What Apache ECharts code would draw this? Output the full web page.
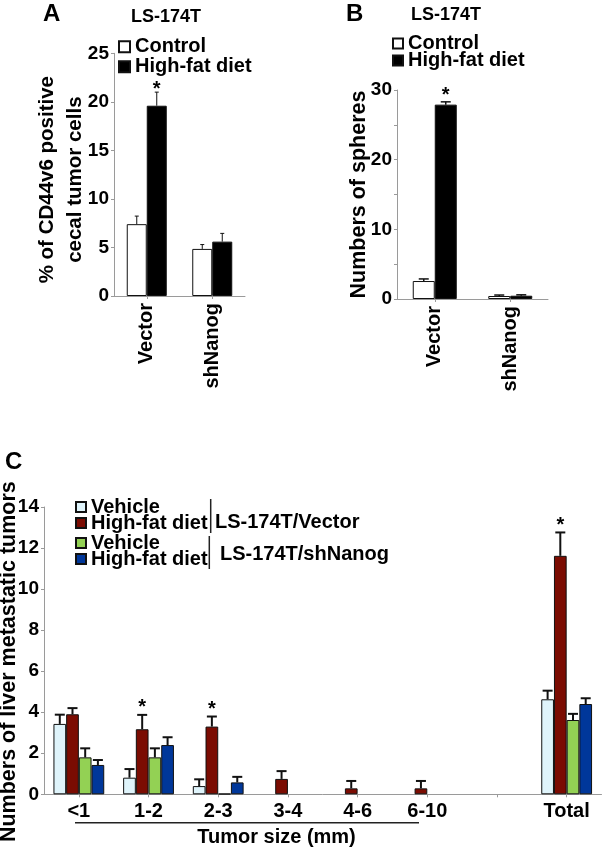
<!DOCTYPE html>
<html>
<head>
<meta charset="utf-8">
<script src="https://cdn.jsdelivr.net/npm/echarts@6/dist/echarts.min.js"></script>
<style>
html, body { margin: 0; padding: 0; background: #fff; }
#main { width: 602px; height: 850px; }
</style>
</head>
<body>
<div id="main"></div>
<script>
// panel A / B groups
var groupsAB = ['Vector', 'shNanog'];

// A: % of CD44v6 positive cecal tumor cells
var aControl = [7.4, 4.85];
var aControlErr = [0.83, 0.45];
var aHfd = [19.6, 5.6];
var aHfdErr = [1.4, 0.85];
var aHfdSig = [1, 0];

// B: numbers of spheres
var bControl = [2.58, 0.43];
var bControlErr = [0.3, 0.14];
var bHfd = [27.9, 0.47];
var bHfdErr = [0.4, 0.13];
var bHfdSig = [1, 0];

// C: liver metastatic tumors by size
var sizeCats = ['<1', '1-2', '2-3', '3-4', '4-6', '6-10', '', 'Total'];
var vehVector = [3.43, 0.81, 0.4, null, null, null, null, 4.63];
var vehVectorErr = [0.45, 0.42, 0.33, 0, 0, 0, 0, 0.42];
var hfdVector = [3.9, 3.17, 3.3, 0.75, 0.29, 0.29, null, 11.62];
var hfdVectorErr = [0.3, 0.7, 0.49, 0.38, 0.36, 0.36, 0, 1.14];
var hfdVectorSig = [0, 1, 1, 0, 0, 0, 0, 1];
var vehSh = [1.8, 1.8, 0.03, null, null, null, null, 3.62];
var vehShErr = [0.44, 0.44, 0, 0, 0, 0, 0, 0.3];
var hfdSh = [1.43, 2.4, 0.58, null, null, null, null, 4.4];
var hfdShErr = [0.24, 0.38, 0.27, 0, 0, 0, 0, 0.28];

var FONT = '"Liberation Sans", Arial, Helvetica, sans-serif';
var AXIS_GRAY = '#9a9a9a';

function errData(vals, errs, sig) {
    var out = [];
    for (var i = 0; i < vals.length; i++) {
        if (vals[i] == null || !errs[i]) continue;
        out.push([i, vals[i], errs[i], sig ? sig[i] : 0]);
    }
    return out;
}

// error bar drawn above a bar, shifted by offset px from the category centre
function errBar(offset, cap, lw, starGap) {
    return function (params, api) {
        var i = api.value(0), v = api.value(1), e = api.value(2);
        var base = api.coord([i, v]);
        var top = api.coord([i, v + e]);
        var x = base[0] + offset;
        var kids = [
            { type: 'line', shape: { x1: x, y1: base[1], x2: x, y2: top[1] }, style: { stroke: '#111', lineWidth: lw } },
            { type: 'line', shape: { x1: x - cap, y1: top[1], x2: x + cap, y2: top[1] }, style: { stroke: '#111', lineWidth: lw } }
        ];
        if (api.value(3)) {
            kids.push({
                type: 'text', x: x, y: top[1] - starGap,
                style: { text: '*', fill: '#000', font: 'bold 20px ' + FONT, align: 'center', verticalAlign: 'middle' }
            });
        }
        return { type: 'group', children: kids };
    };
}

function errSeries(grid, vals, errs, sig, offset, cap, lw, starGap) {
    return {
        type: 'custom', xAxisIndex: grid, yAxisIndex: grid, z: 5,
        renderItem: errBar(offset, cap, lw, starGap || 3),
        encode: { x: 0, y: 1 },
        data: errData(vals, errs, sig)
    };
}

function catAxis(grid, data, rotate, margin) {
    return {
        type: 'category', gridIndex: grid, data: data,
        axisLine: { show: true, lineStyle: { color: AXIS_GRAY, width: 1 } },
        axisTick: { show: true, alignWithLabel: true, length: 3, lineStyle: { color: AXIS_GRAY } },
        axisLabel: { rotate: rotate, margin: margin, color: '#000', fontSize: 20, fontWeight: 'bold', fontFamily: FONT, interval: 0 },
        splitLine: { show: false }
    };
}

function valAxis(grid, max, interval, name, nameGap, fmt, extra, labelPad) {
    var ax = {
        type: 'value', gridIndex: grid, min: 0, max: max, interval: interval,
        name: name, nameLocation: 'middle', nameRotate: 90, nameGap: nameGap,
        nameMoveOverlap: false,
        nameTextStyle: { color: '#000', fontSize: 19, fontWeight: 'bold', fontFamily: FONT },
        axisLine: { show: true, lineStyle: { color: AXIS_GRAY, width: 1 } },
        axisTick: { show: true, length: 3, lineStyle: { color: AXIS_GRAY } },
        axisLabel: { color: '#000', fontSize: 19, fontWeight: 'bold', fontFamily: FONT, margin: 5, formatter: fmt, padding: labelPad || 0 },
        splitLine: { show: false }
    };
    if (extra) {
        for (var k in extra) ax.nameTextStyle[k] = extra[k];
    }
    return ax;
}

function barSeries(grid, name, vals, color, width) {
    return {
        type: 'bar', name: name, xAxisIndex: grid, yAxisIndex: grid,
        data: vals, barWidth: width, barGap: '0%',
        itemStyle: { color: color, borderColor: '#111', borderWidth: 1 },
        emphasis: { disabled: true }
    };
}

function legendBox(data, left, top, gap, iw, ih) {
    return {
        data: data, orient: 'vertical', left: left, top: top, padding: 0,
        itemGap: gap, itemWidth: iw, itemHeight: ih, icon: 'rect', selectedMode: false,
        formatter: function (name) { return name.split('|')[0]; },
        textStyle: { color: '#000', fontSize: 20, fontWeight: 'bold', fontFamily: FONT }
    };
}

function label(text, x, y, size, align) {
    return {
        type: 'text', x: x, y: y,
        style: { text: text, fill: '#000', font: 'bold ' + size + 'px ' + FONT, align: align || 'left', verticalAlign: 'middle' }
    };
}

function rule(x1, y1, x2, y2) {
    return { type: 'line', shape: { x1: x1, y1: y1, x2: x2, y2: y2 }, style: { stroke: '#222', lineWidth: 1.5 } };
}

var cBw = 12.7;
var myChart = echarts.init(document.getElementById('main'));
var option = {
    animation: false,
    backgroundColor: '#fff',
    grid: [
        { left: 114, top: 53.3, width: 131, height: 242.7, outerBoundsMode: 'none' },
        { left: 397, top: 90, width: 151, height: 209, outerBoundsMode: 'none' },
        { left: 44, top: 507, width: 557.5, height: 287.3, outerBoundsMode: 'none' }
    ],
    xAxis: [
        catAxis(0, groupsAB, 90, 7),
        catAxis(1, groupsAB, 90, 7),
        catAxis(2, sizeCats, 0, 7)
    ],
    yAxis: [
        valAxis(0, 25, 5, '% of CD44v6 positive\ncecal tumor cells', 25, null, { fontSize: 20.5, lineHeight: 28, padding: [0, 10, 0, 0] }),
        valAxis(1, 30, 5, 'Numbers of spheres', 27, function (v) { return v % 10 === 0 ? v : ''; }, { fontSize: 21.5 }, [8, 0, 0, 0]),
        valAxis(2, 14, 2, 'Numbers of liver metastatic tumors', 24, null, { fontSize: 21.5, padding: [0, 22, 0, 0] })
    ],
    legend: [
        legendBox(['Control', 'High-fat diet'], 118, 36.7, 0, 11, 11),
        legendBox(['Control|B', 'High-fat diet|B'], 392, 33.5, -3, 10, 10),
        legendBox(['Vehicle|V', 'High-fat diet|V'], 75, 497, -4, 10, 10),
        legendBox(['Vehicle|S', 'High-fat diet|S'], 75, 533, -4, 10, 10)
    ],
    series: [
        barSeries(0, 'Control', aControl, '#ffffff', 20),
        barSeries(0, 'High-fat diet', aHfd, '#000000', 20),
        errSeries(0, aControl, aControlErr, null, -10, 2, 1),
        errSeries(0, aHfd, aHfdErr, aHfdSig, 10, 2, 1, 3),

        barSeries(1, 'Control|B', bControl, '#ffffff', 22),
        barSeries(1, 'High-fat diet|B', bHfd, '#000000', 22),
        errSeries(1, bControl, bControlErr, null, -11, 5, 1.5),
        errSeries(1, bHfd, bHfdErr, bHfdSig, 11, 5, 1.5, 6),

        barSeries(2, 'Vehicle|V', vehVector, '#dff4fb', cBw),
        barSeries(2, 'High-fat diet|V', hfdVector, '#7b0c02', cBw),
        barSeries(2, 'Vehicle|S', vehSh, '#93d154', cBw),
        barSeries(2, 'High-fat diet|S', hfdSh, '#00379a', cBw),
        errSeries(2, vehVector, vehVectorErr, null, -1.5 * cBw, 5, 2),
        errSeries(2, hfdVector, hfdVectorErr, hfdVectorSig, -0.5 * cBw, 5, 2, 7),
        errSeries(2, vehSh, vehShErr, null, 0.5 * cBw, 5, 2),
        errSeries(2, hfdSh, hfdShErr, null, 1.5 * cBw, 5, 2)
    ],
    graphic: [
        label('A', 43, 14, 24),
        label('LS-174T', 166, 17, 18, 'center'),
        label('B', 346, 14, 24),
        label('LS-174T', 446, 15, 18, 'center'),
        label('C', 5, 462, 24),
        rule(210.7, 499, 210.7, 533),
        rule(209.3, 536, 209.3, 569),
        label('LS-174T/Vector', 215, 522, 20),
        label('LS-174T/shNanog', 220, 554, 20),
        rule(75, 822.7, 419, 822.7),
        label('Tumor size (mm)', 276.5, 837, 20, 'center')
    ]
};
myChart.setOption(option);
</script>
</body>
</html>
